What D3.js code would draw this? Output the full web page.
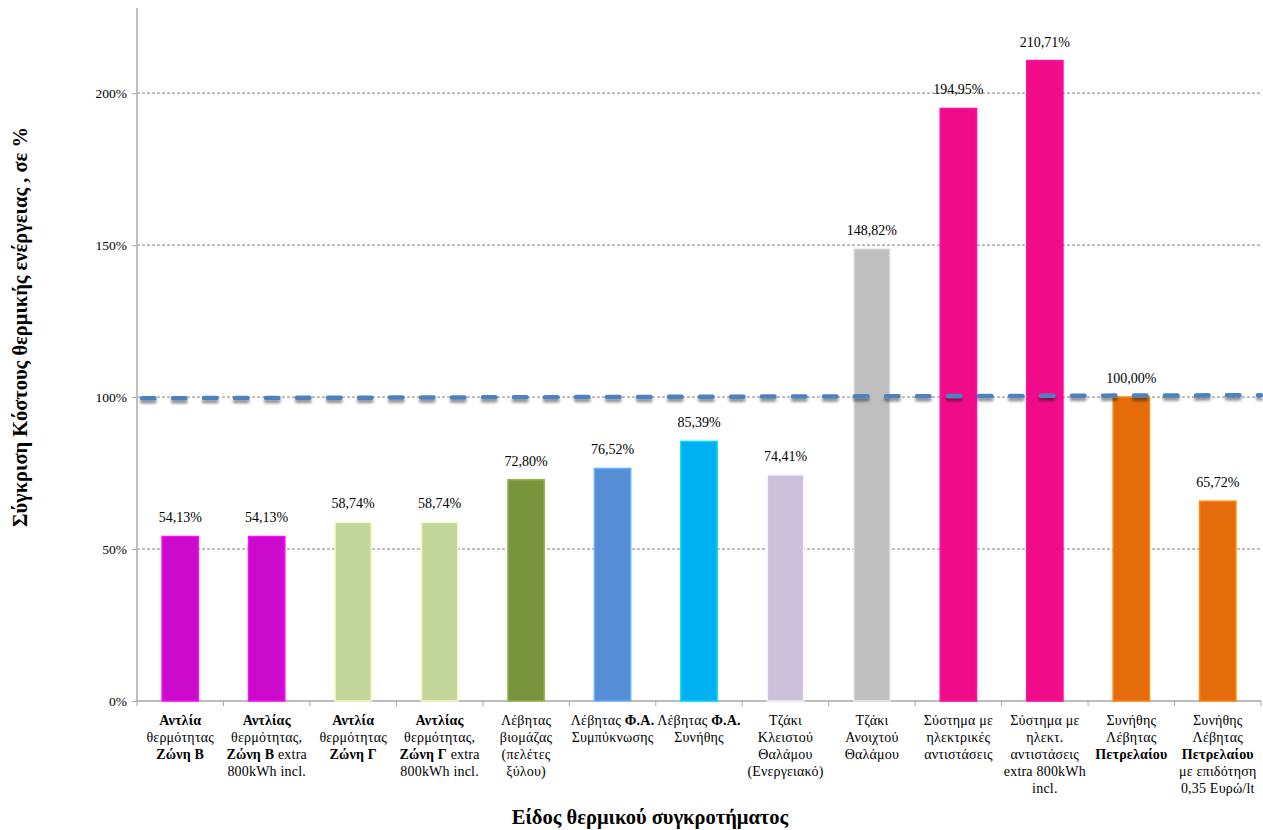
<!DOCTYPE html>
<html>
<head>
<meta charset="utf-8">
<script src="https://cdn.jsdelivr.net/npm/d3@7"></script>
<style>
  body { margin: 0; background: #fff; }
  svg text { font-family: "Times New Roman", "Liberation Serif", Times, "DejaVu Serif", serif; }
</style>
</head>
<body>
<div id="chart"></div>
<script>
// Category labels, one array of lines each (*...* = bold part)
var categories = [
    ["*Αντλία*", "θερμότητας", "*Ζώνη Β*"],
    ["*Αντλίας*", "θερμότητας,", "*Ζώνη Β* extra", "800kWh incl."],
    ["*Αντλία*", "θερμότητας", "*Ζώνη Γ*"],
    ["*Αντλίας*", "θερμότητας,", "*Ζώνη Γ* extra", "800kWh incl."],
    ["Λέβητας", "βιομάζας", "(πελέτες", "ξύλου)"],
    ["Λέβητας *Φ.Α.*", "Συμπύκνωσης"],
    ["Λέβητας *Φ.Α.*", "Συνήθης"],
    ["Τζάκι", "Κλειστού", "Θαλάμου", "(Ενεργειακό)"],
    ["Τζάκι", "Ανοιχτού", "Θαλάμου"],
    ["Σύστημα με", "ηλεκτρικές", "αντιστάσεις"],
    ["Σύστημα με", "ηλεκτ.", "αντιστάσεις", "extra 800kWh", "incl."],
    ["Συνήθης", "Λέβητας", "*Πετρελαίου*"],
    ["Συνήθης", "Λέβητας", "*Πετρελαίου*", "με επιδότηση", "0,35 Ευρώ/lt"]
];

// Cost comparison, % of oil boiler
var values = [54.13, 54.13, 58.74, 58.74, 72.80, 76.52, 85.39, 74.41, 148.82, 194.95, 210.71, 100.00, 65.72];

var barColors = ["#CC0ACC", "#CC0ACC", "#C3D69B", "#C3D69B", "#77933C", "#558ED5", "#00B0F0",
                 "#CCC1DA", "#BFBFBF", "#F00C89", "#F00C89", "#E46C0A", "#E46C0A"];

var yTicks = [0, 50, 100, 150, 200];

// reference line (100%), read at its two ends
var refLine = [99.6, 100.6];

var yTitle = "Σύγκριση Κόστους θερμικής ενέργειας , σε  %";
var xTitle = "Είδος θερμικού συγκροτήματος";

function init(){
    var w = 1263, h = 830;
    var left = 137, right = 1261, top = 8, bottom = 701;

    var svg = d3.select("#chart").append("svg")
        .attr("width", w)
        .attr("height", h);

    var xScale = d3.scaleBand()
        .domain(d3.range(values.length))
        .range([left, right])
        .paddingInner(0.58)
        .paddingOuter(0.29);

    var yScale = d3.scaleLinear()
        .domain([0, 228])
        .range([bottom, top]);

    // gridlines
    svg.selectAll("line.grid")
        .data(yTicks.filter(function(d){ return d > 0; }))
        .enter().append("line")
        .attr("class", "grid")
        .attr("x1", left).attr("x2", right)
        .attr("y1", function(d){ return yScale(d); })
        .attr("y2", function(d){ return yScale(d); })
        .attr("stroke", "#808080")
        .attr("stroke-width", 1)
        .attr("stroke-dasharray", "3,2");

    // y axis
    var yAxis = d3.axisLeft(yScale)
        .tickValues(yTicks)
        .tickSize(5)
        .tickFormat(function(d){ return d + "%"; });
    var gy = svg.append("g")
        .attr("transform", "translate(" + left + ",0)")
        .call(yAxis)
        .attr("font-family", null);
    gy.select(".domain").remove();
    gy.selectAll(".tick line").attr("stroke", "#A6A6A6");
    gy.selectAll(".tick text")
        .attr("x", -10)
        .attr("font-size", "13.5px")
        .attr("fill", "#000");
    svg.append("line")
        .attr("x1", left).attr("x2", left)
        .attr("y1", top).attr("y2", bottom)
        .attr("stroke", "#BFBFBF").attr("stroke-width", 2);

    // x axis
    var xEdge = d3.scaleLinear().domain([0, values.length]).range([left, right]);
    svg.append("line")
        .attr("x1", left).attr("x2", right)
        .attr("y1", bottom).attr("y2", bottom)
        .attr("stroke", "#A6A6A6").attr("stroke-width", 1.5);
    svg.selectAll("line.xtick")
        .data(d3.range(values.length + 1))
        .enter().append("line")
        .attr("class", "xtick")
        .attr("x1", function(d){ return xEdge(d); })
        .attr("x2", function(d){ return xEdge(d); })
        .attr("y1", bottom).attr("y2", bottom + 5)
        .attr("stroke", "#A6A6A6");

    // bars
    svg.selectAll("rect.bar")
        .data(values)
        .enter().append("rect")
        .attr("class", "bar")
        .attr("x", function(d, i){ return xScale(i); })
        .attr("y", function(d){ return yScale(d); })
        .attr("width", xScale.bandwidth())
        .attr("height", function(d){ return bottom - yScale(d); })
        .attr("fill", function(d, i){ return barColors[i]; })
        .attr("stroke", function(d, i){ return d3.color(barColors[i]).brighter(0.6); })
        .attr("stroke-width", 1.5);

    // value labels
    svg.selectAll("text.val")
        .data(values)
        .enter().append("text")
        .attr("class", "val")
        .attr("x", function(d, i){ return xScale(i) + xScale.bandwidth() / 2; })
        .attr("y", function(d){ return yScale(d) - 14; })
        .attr("text-anchor", "middle")
        .attr("font-size", "14px")
        .text(function(d){ return d.toFixed(2).replace(".", ",") + "%"; });

    // reference dashed line with a soft shadow
    var defs = svg.append("defs");
    var f = defs.append("filter").attr("id", "shadow")
        .attr("x", "-5%").attr("y", "-200%").attr("width", "110%").attr("height", "500%");
    f.append("feGaussianBlur").attr("in", "SourceAlpha").attr("stdDeviation", 1.5).attr("result", "b");
    f.append("feOffset").attr("in", "b").attr("dx", 0).attr("dy", 2.5).attr("result", "o");
    f.append("feComponentTransfer").attr("in", "o").attr("result", "s")
        .append("feFuncA").attr("type", "linear").attr("slope", 0.45);
    var m = f.append("feMerge");
    m.append("feMergeNode").attr("in", "s");
    m.append("feMergeNode").attr("in", "SourceGraphic");

    svg.append("line")
        .attr("x1", left + 5).attr("x2", right)
        .attr("y1", yScale(refLine[0])).attr("y2", yScale(refLine[1]))
        .attr("stroke", "#4F81BD")
        .attr("stroke-width", 4.5)
        .attr("stroke-linecap", "round")
        .attr("stroke-dasharray", "12.5,18.5")
        .attr("filter", "url(#shadow)");

    // category labels
    var lineH = 17;
    categories.forEach(function(lines, i){
        var cx = xScale(i) + xScale.bandwidth() / 2;
        var t = svg.append("text")
            .attr("text-anchor", "middle")
            .attr("font-size", "14px")
            .attr("letter-spacing", "0.2px")
            .attr("x", cx)
            .attr("y", bottom + 24);
        lines.forEach(function(line, j){
            var parts = line.split("*");
            var first = true;
            parts.forEach(function(p, k){
                if (p === "") return;
                var ts = t.append("tspan").text(p);
                if (k % 2 === 1) ts.attr("font-weight", "bold");
                if (first) {
                    ts.attr("x", cx).attr("dy", j === 0 ? 0 : lineH);
                    first = false;
                }
            });
        });
    });

    // axis titles
    svg.append("text")
        .attr("transform", "translate(27,327) rotate(-90)")
        .attr("text-anchor", "middle")
        .attr("font-size", "20.5px")
        .attr("font-weight", "bold")
        .text(yTitle);

    svg.append("text")
        .attr("x", 650).attr("y", 824)
        .attr("text-anchor", "middle")
        .attr("font-size", "20.5px")
        .attr("font-weight", "bold")
        .text(xTitle);
}
window.onload = init;
</script>
</body>
</html>
